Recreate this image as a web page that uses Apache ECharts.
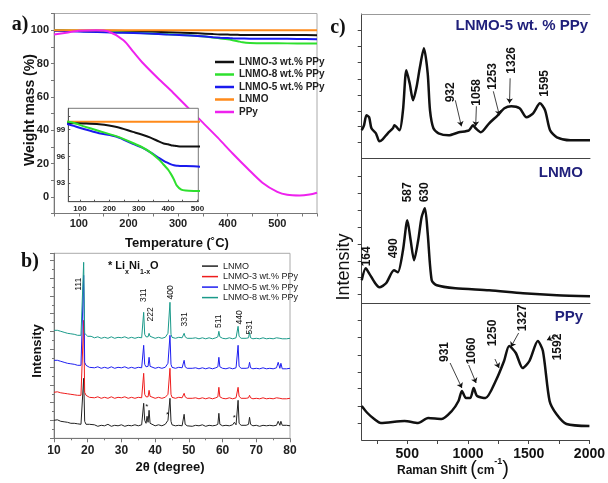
<!DOCTYPE html>
<html><head><meta charset="utf-8">
<script src="https://cdn.jsdelivr.net/npm/echarts@6/dist/echarts.min.js"></script>
<style>html,body{margin:0;padding:0;background:#fff}#c{width:608px;height:483px}</style>
</head><body><div id="c"></div>
<script>
// ---------- Panel a: TGA ----------
const tgaT  = [50, 60, 110, 165, 225, 280, 310, 340, 370, 385, 400, 410, 420, 430, 445, 460, 500, 540, 580];
const tga3  = [99.8, 99.75, 99.7, 99.6, 99.3, 98.75, 98.45, 98.1, 97.65, 97.45, 97.35, 97.25, 97.2, 97.15, 97.1, 97.1, 97.1, 97.05, 97.0];
const tga5  = [99.65, 99.6, 99.1, 98.6, 98.2, 97.4, 97.0, 96.45, 95.8, 95.5, 95.25, 95.1, 95.0, 94.95, 94.9, 94.9, 94.85, 94.75, 94.6];
const tga8  = [99.9, 99.9, 99.4, 98.85, 98.25, 97.5, 97.05, 96.45, 95.6, 95.05, 94.5, 94.0, 93.4, 92.7, 92.25, 92.15, 92.1, 92.05, 92.0];
const tgaL  = [99.9, 99.9, 99.9, 99.9, 99.9, 99.9, 99.9, 99.9, 99.9, 99.9, 99.9, 99.9, 99.9, 99.9, 99.9, 99.9, 99.9, 99.9, 99.9];
const ppyT  = [50, 75, 100, 135, 160, 190, 210, 230, 260, 290, 320, 350, 380, 410, 440, 470, 500, 520, 545, 565, 580];
const ppyW  = [97.4, 98.5, 99.6, 100, 99.2, 94, 87, 80, 71, 62.5, 53.5, 44.5, 35.5, 26, 17, 8.5, 3, 1.2, 0.8, 1.4, 2.5];
const tgaNames = ['LNMO-3 wt.% PPy', 'LNMO-8 wt.% PPy', 'LNMO-5 wt.% PPy', 'LNMO', 'PPy'];
const insetLabels = [['LNMO', 450, 100.5], ['3 wt.%', 446, 98.44], ['5 wt.%', 450, 96.1], ['8 wt.%', 355, 91.8]];
const insetArrows = [[372, 92.74, 400.6, 94.0]];

// ---------- Panel b: XRD ----------
const xrdX = [10,10.5,11,11.5,12,12.5,13,13.5,14,14.5,
  15,15.5,16,16.5,17,17.5,18,18.5,18.8,19.1,
  19.5,20,20.5,21,22,23,24,25,26,27,
  28,29,30,31,32,33,34,35,36,36.3,
  36.6,36.9,37.3,37.6,37.9,38.2,38.5,39,40,41,
  42,43,43.5,43.8,44.1,44.4,44.7,45,46,47,
  48,48.3,48.6,48.9,49.5,50,51,52,53,54,
  55,56,57,58,58.6,58.9,59.2,60,61,62,
  63,63.5,64,64.3,64.6,64.9,65.5,66,67,67.7,
  68,68.3,69,70,71,72,73,74,75,76,
  76.5,77,77.3,77.7,78,79,80];
const xrdLNMO = [18,17,18.5,16.5,17,16,16.5,15,16,14.5,
  15,14,15,13.5,14.5,13,14,15,60,17,
  14,13,14,12.5,13.5,12,13,12.5,14,12,
  13,12.5,13.5,12,13,12.5,13.5,12.5,13.5,15,
  35,18,15,22,16,28,15,13,12.5,13.5,
  12.5,14,15,18,16,40,17,13.5,12.5,13,
  12.5,14,24,14,12.5,13.5,12,13,12.5,13.5,
  12,13,12.5,13,14,25,14,12.5,13,12.5,
  13.5,16,13.5,15,38,15,13,12.5,13,14,
  21,14,12.5,13,12,13,12.5,13,12.5,13,
  17,13,17,13,12.5,13,12.5];
const xrd3 = [46,45,46.5,44.5,45.5,44,45,43.5,44.5,43,
  44,42.5,43.5,42,43,42,43,44,118,46,
  43,42,41,42,40.5,41.5,40,41,40,41.5,
  40,41,40.5,41.5,40,41,40,41,40.5,42,
  65,44,41.5,43,41.5,48,42,40.5,40,41,
  40,41,42,44,43,70,44,41,40,41,
  40.5,41.5,45,41.5,40,41,40,40.5,39.5,40.5,
  39.5,40.5,39.5,40.5,41.5,51,41.5,40,39.5,40.5,
  39.5,41,40.5,42,51,42,40,39.5,40,40.5,
  43,40.5,39.5,40,39.5,40.5,39.5,40,39.5,40.5,
  41,40,41,39.5,40,39.5,40];
const xrd5 = [78,77,78,76,77,75.5,76,74.5,75,73.5,
  74.5,73,74,72.5,73,72,73,74,163,76,
  73,72,71,72,70.5,71.5,70,71,70,71.5,
  70,71,70.5,71.5,70,71,70,71,70.5,72,
  93,74,71.5,72,72,81,72,70.5,70,71,
  70,71,72,75,73,103,74,71,70,71,
  70.5,71.5,78,71.5,70,71,70,70.5,69.5,70.5,
  69.5,70.5,69.5,70.5,71.5,81,71.5,70,69.5,70.5,
  69.5,71,70.5,72,93,72,70,69.5,70,70.5,
  76,70.5,69.5,70,69.5,70.5,69.5,70,69.5,70.5,
  76,70,75,69.5,70,69.5,70];
const xrd8 = [108,107,108,106,107,105.5,106,104.5,105,104,
  104.5,103,104,102.5,103,102,103,104,176,105,
  103,102,101,102,100.5,101.5,100,101,100,101.5,
  100,101,100.5,101.5,100,101,100,101,100.5,102,
  126,104,101.5,102,101.5,105,102,100.5,100,101,
  100,101,102,105,103,136,104,101,100,101,
  100.5,101.5,105,101.5,100,101,100,100.5,99.5,100.5,
  99.5,100.5,99.5,100.5,101.5,107,101.5,100,99.5,100.5,
  99.5,101,100.5,102,112,102,100,99.5,100,100.5,
  106,100.5,99.5,100,99.5,100.5,99.5,100,99.5,100.5,
  101,100,101,99.5,100,99.5,100];
const xrdNames = ['LNMO', 'LNMO-3 wt.% PPy', 'LNMO-5 wt.% PPy', 'LNMO-8 wt.% PPy'];
const xrdPeakLabels = [['111',17.4,154],['311',36.7,143],['222',38.7,124],['400',44.6,146],['331',48.9,119],['511',58.95,117],['440',65,121],['531',67.9,111]];
const xrdStars = [['*',37.5,32],['*',43.7,24],['*',63.5,21]];

// ---------- Panel c: Raman ----------
const ramTopX = [125,144,164,186,205,242,270,297,339,381,394,436,464,492,519,547,575,603,636,667,686,714,756,839,922,1006,1039,1061,1103,1172,1242,1297,1353,1422,1478,1533,1589,1631,1672,1728,1839,2000];
const ramTopY = [28,33,43,41,30,25,17,19,25,30,33,28,48,88,75,58,71,91,110,85,48,30,25,23,26,28,33,30,26,35,43,50,52,50,41,45,55,48,28,21,18,18];
const ramMidX = [125,158,186,236,270,325,390,422,464,500,527,555,589,617,644,667,700,742,894,1172,1450,1728,2000];
const ramMidY = [23,35,30,20,16,20,33,31,53,83,63,43,63,86,95,70,23,18,15,13,10,8,7];
const ramBotX = [125,172,228,283,478,589,672,783,867,922,950,983,1019,1047,1075,1144,1228,1297,1339,1394,1450,1506,1575,1617,1672,1728,1811,2000];
const ramBotY = [34,27,21,17,19,17,22,21,29,39,49,42,42,52,44,42,59,79,94,87,72,79,99,89,39,26,16,14];
const ramTitles = ['LNMO-5 wt. % PPy', 'LNMO', 'PPy'];
const ramTopLabels = [['932',852,66],['1058',1067,66],['1253',1200,82],['1326',1353,98],['1595',1631,75]];
const ramTopArrows = [[894,58,944,32],[1067,52,1061,32],[1206,67,1256,43],[1344,80,1339,55]];
const ramMidLabels = [['164',162,47],['490',389,55],['587',500,111],['630',644,111]];
const ramBotLabels = [['931',811,88],['1060',1033,89],['1250',1200,107],['1327',1450,122],['1592',1742,93]];
const ramBotArrows = [[853,77,950,52],[1006,75,1067,57],[1222,81,1256,72],[1417,107,1353,93],[1742,105,1650,100]];

// ---------- helpers ----------
const F = '"Liberation Sans", Arial, sans-serif';
const zip = (xs, ys) => xs.map((x, i) => [x, ys[i]]);
function labelsMP(list, fontSize, rotate, bold) {
  return { silent: true, symbol: 'circle', symbolSize: 1, itemStyle: { color: 'rgba(0,0,0,0)' },
    label: { show: true, position: 'inside', rotate: rotate, fontSize: fontSize, fontWeight: bold ? 'bold' : 'normal', color: '#111', fontFamily: F, formatter: '{b}' },
    data: list.map(l => ({ name: l[0], coord: [l[1], l[2]] })) };
}
function arrowsML(list) {
  return { silent: true, symbol: ['none', 'arrow'], symbolSize: 5, lineStyle: { color: '#111', width: 0.8, type: 'solid' },
    label: { show: false }, emphasis: { disabled: true },
    data: list.map(a => [{ coord: [a[0], a[1]] }, { coord: [a[2], a[3]] }]) };
}
function ln(name, xi, yi, data, color, width, extra) {
  return Object.assign({ type: 'line', name: name, xAxisIndex: xi, yAxisIndex: yi, data: data, showSymbol: false,
    symbol: 'none', lineStyle: { color: color, width: width }, itemStyle: { color: color }, emphasis: { disabled: true } }, extra || {});
}
const tgaColors = ['#111111', '#2ee02e', '#1a1aee', '#ff8a1a', '#ee22ee'];
const xrdColors = ['#222222', '#ee1c1c', '#1e1ef0', '#1a9a8a'];
const plain = v => String(v);

const hideAx = { axisTick: { show: false }, axisLabel: { show: false }, splitLine: { show: false } };

const option = {
  animation: false,
  textStyle: { fontFamily: F },
  grid: [
    { left: 54, top: 13.5, width: 263, height: 200, show: true, borderColor: '#aaa', borderWidth: 1, backgroundColor: 'transparent' },
    { left: 68.3, top: 108.3, width: 130, height: 93.4, show: true, borderColor: '#777', borderWidth: 1, backgroundColor: '#fff', z: 10 },
    { left: 54, top: 253.3, width: 236, height: 185, show: true, borderColor: '#aaa', borderWidth: 1, backgroundColor: 'transparent' },
    { left: 361.7, top: 14, width: 228.3, height: 144.3 },
    { left: 361.7, top: 158.3, width: 228.3, height: 145 },
    { left: 361.7, top: 303.3, width: 228.3, height: 136.7 }
  ],
  xAxis: [
    { gridIndex: 0, type: 'value', min: 50, max: 580, interval: 50,
      axisLine: { onZero: false, lineStyle: { color: '#777' } }, axisTick: { length: 3, lineStyle: { color: '#777' } },
      axisLabel: { formatter: v => (v % 100 === 0 ? String(v) : ''), fontSize: 11, fontWeight: 'bold', color: '#222', margin: 5 },
      splitLine: { show: false } },
    { gridIndex: 1, type: 'value', min: 60, max: 503, z: 11,
      axisLine: { onZero: false, lineStyle: { color: '#555' } },
      axisTick: { inside: true, length: 2, customValues: [100,150,200,250,300,350,400,450,500], lineStyle: { color: '#555' } },
      axisLabel: { customValues: [100,200,300,400,500], formatter: plain, fontSize: 8, fontWeight: 'bold', color: '#222', margin: 3 },
      splitLine: { show: false } },
    { gridIndex: 2, type: 'value', min: 10, max: 80, interval: 10,
      axisLine: { onZero: false, lineStyle: { color: '#777' } }, axisTick: { length: 4, lineStyle: { color: '#777' } },
      minorTick: { show: true, splitNumber: 2, length: 2, lineStyle: { color: '#777' } },
      axisLabel: { fontSize: 12, fontWeight: 'bold', color: '#222', margin: 6 },
      splitLine: { show: false }, minorSplitLine: { show: false } },
    Object.assign({ gridIndex: 3, type: 'value', min: 125, max: 2000, axisLine: { onZero: false, lineStyle: { color: '#444' } } }, hideAx),
    Object.assign({ gridIndex: 4, type: 'value', min: 125, max: 2000, axisLine: { onZero: false, lineStyle: { color: '#444' } } }, hideAx),
    { gridIndex: 5, type: 'value', min: 125, max: 2000,
      axisLine: { onZero: false, lineStyle: { color: '#444' } },
      axisTick: { length: 4, customValues: [250,500,750,1000,1250,1500,1750,2000], lineStyle: { color: '#444' } },
      axisLabel: { customValues: [500,1000,1500,2000], formatter: plain, fontSize: 14, fontWeight: 'bold', color: '#111', margin: 7 },
      splitLine: { show: false } },
    Object.assign({ gridIndex: 3, type: 'value', position: 'top', min: 125, max: 2000, axisLine: { onZero: false, lineStyle: { color: '#999' } } }, hideAx)
  ],
  yAxis: [
    { gridIndex: 0, type: 'value', min: -10, max: 110, interval: 10,
      axisLine: { show: true, onZero: false, lineStyle: { color: '#777' } }, axisTick: { show: true, length: 3, lineStyle: { color: '#777' } },
      axisLabel: { formatter: v => (v >= 0 && v <= 100 && Math.round(v) % 20 === 0 ? String(v) : ''), fontSize: 11, fontWeight: 'bold', color: '#222', margin: 5 },
      splitLine: { show: false } },
    { gridIndex: 1, type: 'value', min: 90.9, max: 101.4, z: 11,
      axisLine: { show: true, onZero: false, lineStyle: { color: '#555' } },
      axisTick: { show: true, inside: true, length: 2, customValues: [91.5,93,94.5,96,97.5,99,100.5], lineStyle: { color: '#555' } },
      axisLabel: { customValues: [93,96,99], formatter: plain, fontSize: 8, fontWeight: 'bold', color: '#222', margin: 3 },
      splitLine: { show: false } },
    { gridIndex: 2, type: 'value', min: 0, max: 185, interval: 17.8,
      axisLine: { show: true, onZero: false, lineStyle: { color: '#777' } }, axisTick: { show: true, length: 4, lineStyle: { color: '#777' } },
      minorTick: { show: true, splitNumber: 2, length: 2, lineStyle: { color: '#777' } },
      axisLabel: { show: false }, splitLine: { show: false }, minorSplitLine: { show: false } },
    { gridIndex: 3, type: 'value', min: 0, max: 144.3,
      axisLine: { show: true, onZero: false, lineStyle: { color: '#444' } },
      axisTick: { show: true, length: 4, customValues: [16,32,47,63,79,96,112,128], lineStyle: { color: '#444' } },
      axisLabel: { show: false }, splitLine: { show: false } },
    { gridIndex: 4, type: 'value', min: 0, max: 145,
      axisLine: { show: true, onZero: false, lineStyle: { color: '#444' } },
      axisTick: { show: true, length: 4, customValues: [9,26,42,59,76,93,110,127], lineStyle: { color: '#444' } },
      axisLabel: { show: false }, splitLine: { show: false } },
    { gridIndex: 5, type: 'value', min: 0, max: 136.7,
      axisLine: { show: true, onZero: false, lineStyle: { color: '#444' } },
      axisTick: { show: true, length: 4, customValues: [17,34,52,68,85,103,120], lineStyle: { color: '#444' } },
      axisLabel: { show: false }, splitLine: { show: false } }
  ],
  legend: [
    { left: 210, top: 51, orient: 'vertical', icon: 'rect', itemWidth: 19, itemHeight: 2.5, itemGap: 0.5,
      selectedMode: false, textStyle: { fontSize: 10, fontWeight: 'bold', color: '#222', lineHeight: 12, fontFamily: F },
      data: tgaNames.map((n, i) => ({ name: n, itemStyle: { color: tgaColors[i] } })) },
    { left: 197, top: 256, orient: 'vertical', icon: 'rect', itemWidth: 16, itemHeight: 1.5, itemGap: 0.3,
      selectedMode: false, textStyle: { fontSize: 9, color: '#222', lineHeight: 10.2, fontFamily: F },
      data: xrdNames.map((n, i) => ({ name: n, itemStyle: { color: xrdColors[i] } })) }
  ],
  series: [
    // panel a main
    ln(tgaNames[0], 0, 0, zip(tgaT, tga3), tgaColors[0], 2, { smooth: 0.3 }),
    ln(tgaNames[1], 0, 0, zip(tgaT, tga8), tgaColors[1], 2, { smooth: 0.3 }),
    ln(tgaNames[2], 0, 0, zip(tgaT, tga5), tgaColors[2], 2, { smooth: 0.3 }),
    ln(tgaNames[3], 0, 0, zip(tgaT, tgaL), tgaColors[3], 2),
    ln(tgaNames[4], 0, 0, zip(ppyT, ppyW), tgaColors[4], 2, { smooth: 0.3 }),
    // inset
    ln(tgaNames[3], 1, 1, zip(tgaT, tgaL), tgaColors[3], 2, { z: 12 }),
    ln(tgaNames[0], 1, 1, zip(tgaT, tga3), tgaColors[0], 2, { z: 12, smooth: 0.3 }),
    ln(tgaNames[2], 1, 1, zip(tgaT, tga5), tgaColors[2], 2, { z: 12, smooth: 0.3 }),
    ln(tgaNames[1], 1, 1, zip(tgaT, tga8), tgaColors[1], 2, { z: 12, smooth: 0.3,
      markPoint: labelsMP(insetLabels, 8, 0, true), markLine: arrowsML(insetArrows) }),
    // panel b
    ln(xrdNames[0], 2, 2, zip(xrdX, xrdLNMO), xrdColors[0], 1, { markPoint: labelsMP(xrdStars, 8, 0, false) }),
    ln(xrdNames[1], 2, 2, zip(xrdX, xrd3), xrdColors[1], 1),
    ln(xrdNames[2], 2, 2, zip(xrdX, xrd5), xrdColors[2], 1),
    ln(xrdNames[3], 2, 2, zip(xrdX, xrd8), xrdColors[3], 1, { markPoint: labelsMP(xrdPeakLabels, 8.5, 90, false) }),
    // panel c
    ln('Raman ' + ramTitles[0], 3, 3, zip(ramTopX, ramTopY), '#111', 2.5, { smooth: 0.25,
      markPoint: labelsMP(ramTopLabels, 12, 90, true), markLine: arrowsML(ramTopArrows) }),
    ln('Raman ' + ramTitles[1], 4, 4, zip(ramMidX, ramMidY), '#111', 2.5, { smooth: 0.25,
      markPoint: labelsMP(ramMidLabels, 12, 90, true) }),
    ln('Raman ' + ramTitles[2], 5, 5, zip(ramBotX, ramBotY), '#111', 2.5, { smooth: 0.25,
      markPoint: labelsMP(ramBotLabels, 12, 90, true), markLine: arrowsML(ramBotArrows) })
  ],
  graphic: [
    { type: 'text', x: 20, y: 25, style: { text: 'a)', font: 'bold 20px "Liberation Serif", serif', fill: '#111', align: 'center', verticalAlign: 'middle' } },
    { type: 'text', x: 30, y: 262, style: { text: 'b)', font: 'bold 20px "Liberation Serif", serif', fill: '#111', align: 'center', verticalAlign: 'middle' } },
    { type: 'text', x: 338, y: 28, style: { text: 'c)', font: 'bold 20px "Liberation Serif", serif', fill: '#111', align: 'center', verticalAlign: 'middle' } },
    { type: 'text', x: 30, y: 110, rotation: Math.PI / 2, style: { text: 'Weight mass (%)', font: 'bold 14px ' + F, fill: '#111', align: 'center', verticalAlign: 'middle' } },
    { type: 'text', x: 177, y: 243, style: { text: 'Temperature (˚C)', font: 'bold 13px ' + F, fill: '#111', align: 'center', verticalAlign: 'middle' } },
    { type: 'text', x: 37, y: 351, rotation: Math.PI / 2, style: { text: 'Intensity', font: 'bold 13px ' + F, fill: '#111', align: 'center', verticalAlign: 'middle' } },
    { type: 'text', x: 170, y: 467, style: { text: '2θ (degree)', font: 'bold 13px ' + F, fill: '#111', align: 'center', verticalAlign: 'middle' } },
    { type: 'text', x: 344, y: 267, rotation: Math.PI / 2, style: { text: 'Intensity', font: '18px ' + F, fill: '#111', align: 'center', verticalAlign: 'middle' } },
    { type: 'text', x: 453, y: 468, style: { text: '{a|Raman Shift }{p|(}{a|cm}{s|-1}{p|)}', align: 'center', verticalAlign: 'middle',
      rich: { a: { fontSize: 12, fontWeight: 'bold', fontFamily: F, fill: '#111', lineHeight: 22, verticalAlign: 'bottom', padding: [0, 0, 2, 0] },
              p: { fontSize: 20, fontFamily: F, fill: '#111', lineHeight: 22, verticalAlign: 'bottom' },
              s: { fontSize: 9, fontWeight: 'bold', fontFamily: F, fill: '#111', lineHeight: 22, verticalAlign: 'top' } } } },
    { type: 'text', x: 588, y: 26, style: { text: ramTitles[0], font: 'bold 15px ' + F, fill: '#1f1f7a', align: 'right', verticalAlign: 'middle' } },
    { type: 'text', x: 583, y: 173, style: { text: ramTitles[1], font: 'bold 15px ' + F, fill: '#1f1f7a', align: 'right', verticalAlign: 'middle' } },
    { type: 'text', x: 583, y: 317, style: { text: ramTitles[2], font: 'bold 15px ' + F, fill: '#1f1f7a', align: 'right', verticalAlign: 'middle' } },
    { type: 'text', x: 108, y: 268, style: { text: '{a|* Li}{s|x}{a|Ni}{s|1-x}{a|O}', verticalAlign: 'middle',
      rich: { a: { fontSize: 11, fontWeight: 'bold', fontFamily: F, fill: '#111', lineHeight: 16, verticalAlign: 'top' },
              s: { fontSize: 7, fontWeight: 'bold', fontFamily: F, fill: '#111', lineHeight: 16, verticalAlign: 'bottom' } } } }
  ]
};
const chart = echarts.init(document.getElementById('c'), null, { renderer: 'canvas' });
chart.setOption(option);
</script></body></html>
